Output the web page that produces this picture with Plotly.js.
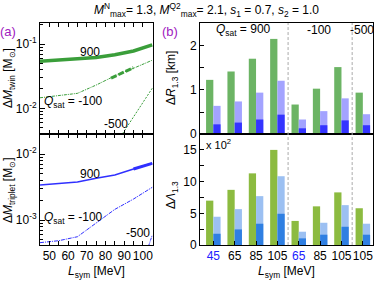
<!DOCTYPE html>
<html>
<head>
<meta charset="utf-8">
<script src="https://cdn.plot.ly/plotly-3.0.1.min.js"></script>
<style>html,body{margin:0;padding:0;background:#fff;}#chart{width:374px;height:281px;}</style>
</head>
<body>
<div id="chart"></div>
<script>
// ---- data: panel (a) ----
const Lsym = [45, 55, 65, 75, 85, 95, 105];
const twin900 = [0.054, 0.056, 0.058, 0.062, 0.068, 0.078, 0.097];
const twinM100 = [0.0146, 0.0158, 0.0171, 0.023, 0.032, 0.042, 0.056];
const twinThickL = [83, 89, 95];
const twinThickM100 = [0.0295, 0.036, 0.043];
const L500 = [85, 95, 105];
const twinM500 = [0.00264, 0.0074, 0.0205];

const trip900 = [0.00339, 0.00357, 0.00376, 0.00428, 0.0048, 0.00593, 0.00723];
const tripThickL = [95, 100, 105];
const tripThick900 = [0.00593, 0.0066, 0.00723];
const tripM100 = [0.000454, 0.000486, 0.000558, 0.00089, 0.00145, 0.00208, 0.00313];
const tripL500 = [103, 105];
const tripM500 = [0.0004, 0.00059];

// ---- data: panel (b) ----
const barLabels = ['45', '65', '85', '105', '65', '85', '105', '105'];
const barLabelBlue = [true, false, false, false, true, false, false, false];
const Rgreen = [1.23, 1.42, 1.71, 2.16, 0.67, 1.03, 1.52, 0.94];
const Rlight = [0.64, 0.74, 0.94, 1.21, 0.33, 0.52, 0.81, 0.45];
const Rdark  = [0.22, 0.26, 0.33, 0.44, 0.13, 0.20, 0.31, 0.20];
const Lamgreen = [7.0, 8.7, 11.3, 15.0, 3.8, 6.1, 8.3, 5.8];
const Lamlight = [4.46, 5.66, 7.71, 10.85, 2.1, 3.51, 6.29, 3.36];
const Lamdark  = [1.78, 2.46, 3.36, 4.93, 1.05, 1.63, 2.88, 1.63];
const groupBreaks = [3.5, 6.5];

const logTop = ['10<sup>-1</sup>', '10<sup>-2</sup>'];
const logTopVals = [0.1, 0.01];
const logBot = ['10<sup>-2</sup>', '10<sup>-3</sup>'];
const logBotVals = [0.01, 0.001];

const xi = barLabels.map((_, i) => i);
const GREEN = '#3a9e3a';
const BLUE = '#3030ff';

const traces = [
  {x: Lsym, y: twin900, xaxis: 'x', yaxis: 'y', mode: 'lines', line: {color: GREEN, width: 3.5}},
  {x: Lsym, y: twinM100, xaxis: 'x', yaxis: 'y', mode: 'lines', line: {color: GREEN, width: 1, dash: '3px,1px,1px,1px'}},
  {x: twinThickL, y: twinThickM100, xaxis: 'x', yaxis: 'y', mode: 'lines', line: {color: GREEN, width: 3, dash: '6px,2px'}},
  {x: L500, y: twinM500, xaxis: 'x', yaxis: 'y', mode: 'lines', line: {color: GREEN, width: 1, dash: '2px,1.5px'}},

  {x: Lsym, y: trip900, xaxis: 'x2', yaxis: 'y2', mode: 'lines', line: {color: BLUE, width: 1.5}},
  {x: tripThickL, y: tripThick900, xaxis: 'x2', yaxis: 'y2', mode: 'lines', line: {color: BLUE, width: 3}},
  {x: Lsym, y: tripM100, xaxis: 'x2', yaxis: 'y2', mode: 'lines', line: {color: BLUE, width: 1, dash: '4px,1px,1px,1px'}},
  {x: tripL500, y: tripM500, xaxis: 'x2', yaxis: 'y2', mode: 'lines', line: {color: BLUE, width: 1, dash: '3px,1px,1px,1px'}},

  {type: 'bar', x: xi, y: Rgreen, xaxis: 'x3', yaxis: 'y3', offset: -0.34, width: 0.34, marker: {color: '#6cb464', line: {width: 0}}},
  {type: 'bar', x: xi, y: Rlight, xaxis: 'x3', yaxis: 'y3', offset: 0, width: 0.34, marker: {color: '#a3a3ff', line: {width: 0}}},
  {type: 'bar', x: xi, y: Rdark, xaxis: 'x3', yaxis: 'y3', offset: 0, width: 0.34, marker: {color: '#3434ff', line: {width: 0}}},

  {type: 'bar', x: xi, y: Lamgreen, xaxis: 'x4', yaxis: 'y4', offset: -0.34, width: 0.34, marker: {color: '#8cbb40', line: {width: 0}}},
  {type: 'bar', x: xi, y: Lamlight, xaxis: 'x4', yaxis: 'y4', offset: 0, width: 0.34, marker: {color: '#9cc0f2', line: {width: 0}}},
  {type: 'bar', x: xi, y: Lamdark, xaxis: 'x4', yaxis: 'y4', offset: 0, width: 0.34, marker: {color: '#2f7fe2', line: {width: 0}}}
];

const FONT = 'Liberation Sans, Arial, sans-serif';
const leftDom = [0.107, 0.409];
const rightDom = [0.535, 0.997];
const topDom = [0.523, 0.918];
const botDom = [0.128, 0.523];

const baseX = {showline: true, linecolor: '#000', linewidth: 1, mirror: 'ticks', ticks: 'inside', ticklen: 4, tickcolor: '#000', showgrid: false, zeroline: false, tickangle: 0, automargin: false};
const baseY = {showline: true, linecolor: '#000', linewidth: 1, mirror: true, ticks: 'inside', ticklen: 4, tickcolor: '#000', showgrid: false, zeroline: false, tickangle: 0, automargin: false, tickfont: {size: 12, color: '#000'}};

const shapes = [];
groupBreaks.forEach(b => {
  shapes.push({type: 'line', xref: 'x3', yref: 'paper', x0: b, x1: b, y0: botDom[0], y1: topDom[1], line: {color: '#aaa', width: 1, dash: '3px,2px'}});
});

const tickTextB = barLabels.map((t, i) => barLabelBlue[i] ? '<span style="color:#2020ff">' + t + '</span>' : t);

function ann(px, py, text, extra) {
  return Object.assign({xref: 'paper', yref: 'paper', x: px / 374, y: 1 - py / 281, xanchor: 'center', yanchor: 'middle', text: text, showarrow: false, font: {size: 12}}, extra || {});
}

const layout = {
  width: 374, height: 281,
  margin: {l: 0, r: 0, t: 0, b: 0},
  paper_bgcolor: '#fff', plot_bgcolor: '#fff',
  showlegend: false,
  barmode: 'overlay',
  font: {family: FONT, size: 12, color: '#000'},
  xaxis: Object.assign({}, baseX, {domain: leftDom, anchor: 'y', range: [45, 105.4], dtick: 10, showticklabels: false, minor: {dtick: 5, ticks: 'inside', ticklen: 4, tickcolor: '#000'}}),
  yaxis: Object.assign({}, baseY, {domain: topDom, anchor: 'x', type: 'log', range: [-2.4, -0.673], tickvals: logTopVals, ticktext: logTop, ticklen: 5, minor: {dtick: 'D1', ticks: 'inside', ticklen: 3, tickcolor: '#000'}}),
  xaxis2: Object.assign({}, baseX, {domain: leftDom, anchor: 'y2', range: [45, 105.4], dtick: 10, tickfont: {size: 12}, minor: {dtick: 5, ticks: 'inside', ticklen: 4, tickcolor: '#000'},
    title: {text: '<i>L</i><sub>sym</sub> [MeV]', font: {size: 12}, standoff: 4}}),
  yaxis2: Object.assign({}, baseY, {domain: botDom, anchor: 'x2', type: 'log', range: [-3.379, -1.697], tickvals: logBotVals, ticktext: logBot, ticklen: 5, minor: {dtick: 'D1', ticks: 'inside', ticklen: 3, tickcolor: '#000'}}),
  xaxis3: Object.assign({}, baseX, {domain: rightDom, anchor: 'y3', range: [-0.62, 7.47], showticklabels: false, ticks: '', mirror: true}),
  yaxis3: Object.assign({}, baseY, {domain: topDom, anchor: 'x3', range: [0, 2.52], dtick: 1, minor: {dtick: 0.5, ticks: 'inside', ticklen: 4, tickcolor: '#000'}}),
  xaxis4: Object.assign({}, baseX, {domain: rightDom, anchor: 'y4', range: [-0.62, 7.47], tickvals: xi, ticktext: tickTextB, mirror: true, tickfont: {size: 12},
    title: {text: '<i>L</i><sub>sym</sub> [MeV]', font: {size: 12}, standoff: 4}}),
  yaxis4: Object.assign({}, baseY, {domain: botDom, anchor: 'x4', range: [0, 17.5], dtick: 5, minor: {dtick: 2.5, ticks: 'inside', ticklen: 4, tickcolor: '#000'}}),
  shapes: shapes,
  annotations: [
    ann(206, 10, '<i>M</i><sup>N</sup><sub>max</sub>= 1.3, <i>M</i><sup>Q2</sup><sub>max</sub>= 2.1, <i>s</i><sub>1</sub> = 0.7, <i>s</i><sub>2</sub> = 1.0'),
    ann(8, 32, '(a)', {font: {size: 13, color: '#a020c0'}}),
    ann(170, 32, '(b)', {font: {size: 13, color: '#a020c0'}}),
    ann(9, 78, 'Δ<i>M</i><sub>twin</sub> [M<sub>⊙</sub>]', {textangle: -90}),
    ann(9, 190, 'Δ<i>M</i><sub>triplet</sub> [M<sub>⊙</sub>]', {textangle: -90}),
    ann(172, 78, 'Δ<i>R</i><sub>1.3</sub> [km]', {textangle: -90}),
    ann(172, 195, 'Δ<i>Λ</i><sub>1.3</sub>', {textangle: -90}),
    ann(90, 52, '900'),
    ann(73, 102, '<i>Q</i><sub>sat</sub> = -100'),
    ann(116, 124, '-500'),
    ann(90, 174, '900'),
    ann(73, 218, '<i>Q</i><sub>sat</sub> = -100'),
    ann(138, 233, '-500'),
    ann(243, 30, '<i>Q</i><sub>sat</sub> = 900'),
    ann(319, 30, '-100'),
    ann(362, 30, '-500'),
    ann(218, 144, 'x 10<sup>2</sup>', {font: {size: 11}})
  ]
};

Plotly.newPlot('chart', traces, layout, {staticPlot: true, displayModeBar: false});
</script>
</body>
</html>
